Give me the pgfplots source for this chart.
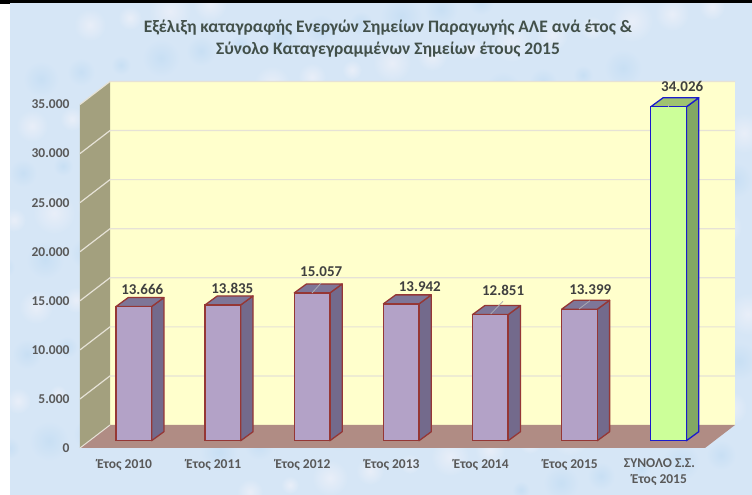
\documentclass[border=0pt]{standalone}
\usepackage{pgfplots}
\usepackage{pgfplotstable}
\usepackage{fontspec}
\setmainfont{Carlito}
\pgfplotsset{compat=1.18}
\definecolor{bgc}{HTML}{D6E6F6}
\definecolor{bgl}{HTML}{E8EEF8}
\definecolor{bgd}{HTML}{C8DFF4}
\definecolor{wallb}{HTML}{FFFFCC}
\definecolor{walll}{HTML}{A3A07E}
\definecolor{floorc}{HTML}{B08C84}
\definecolor{gridc}{HTML}{E6E2D6}
\definecolor{leadc}{HTML}{ABABB2}
\definecolor{barf}{HTML}{B3A2C7}
\definecolor{bars}{HTML}{736A8C}
\definecolor{bart}{HTML}{7E7698}
\definecolor{barl}{HTML}{953735}
\definecolor{totf}{HTML}{CCFF99}
\definecolor{tots}{HTML}{82A864}
\definecolor{tott}{HTML}{9FC370}
\definecolor{totl}{HTML}{1A1ACC}
\definecolor{titlec}{HTML}{42504A}
\definecolor{tickc}{HTML}{595959}
\definecolor{valc}{HTML}{404040}
\pgfplotstableread{
x value lx ly
0 13666 17.7 16.7
1 13835 18.6 16.2
2 15057 18.4 21
3 13942 27.8 17
4 12851 22 24
5 13399 20 19.5
}\yearly
\pgfplotstableread{
x value lx ly
6 34026 22.8 20
}\total
\begin{document}
\begin{tikzpicture}[x=1pt,y=1pt]
\path[use as bounding box] (0,0) rectangle (752,495);
\fill[bgc] (0,0) rectangle (752,495);
\begin{scope}
\clip (0,0) rectangle (752,495);
\foreach \i in {1,...,170}{
  \pgfmathsetmacro{\bx}{mod(\i*89,752)}
  \pgfmathsetmacro{\by}{mod(\i*61,495)}
  \pgfmathsetmacro{\br}{9+mod(\i*7,13)}
  \pgfmathtruncatemacro{\bk}{mod(\i,2)}
  \ifnum\bk=0
    \shade[inner color=bgl,outer color=bgc] (\bx,\by) circle (\br);
  \else
    \shade[inner color=bgd,outer color=bgc] (\bx,\by) circle (\br);
  \fi
}
\end{scope}
\fill[white] (0,0) rectangle (10,495);
\fill[black] (0,492) rectangle (752,495);
\fill[black] (0,491) rectangle (10,495);
\begin{axis}[
  at={(80pt,47pt)}, anchor=south west,
  width=624pt, height=343.5pt, scale only axis,
  clip=false,
  xmin=-0.5, xmax=6.5, ymin=0, ymax=35000,
  axis line style={draw=none},
  major tick length=0pt,
  xtick={0,1,2,3,4,5,6},
  xticklabels={Έτος 2010,Έτος 2011,Έτος 2012,Έτος 2013,Έτος 2014,Έτος 2015,{ΣΥΝΟΛΟ Σ.Σ.\\Έτος 2015}},
  xticklabel style={align=center,font=\fontsize{13.5}{16}\selectfont\bfseries,text=tickc,anchor=north,yshift=-7.5pt},
  ytick={0,5000,10000,15000,20000,25000,30000,35000},
  yticklabel style={font=\fontsize{13.5}{15}\selectfont\bfseries,text=tickc,anchor=east,xshift=-7pt},
  scaled y ticks=false,
  /pgf/number format/.cd,assume math mode=true,1000 sep={.},
  /pgfplots/.cd,
  title={Εξέλιξη καταγραφής Ενεργών Σημείων Παραγωγής ΑΛΕ ανά έτος \&\\Σύνολο Καταγεγραμμένων Σημείων έτους 2015},
  title style={at={(0.4936,1)},anchor=south,yshift=38pt,align=center,
    font=\fontsize{17.5}{22}\selectfont\bfseries,text=titlec},
  nodes near coords style={font=\fontsize{15}{16}\selectfont\bfseries,text=valc,anchor=center},
]
% walls and floor
\fill[wallb] (axis cs:-0.5,0) ++(30pt,23pt) rectangle ++(625pt,343.5pt);
\fill[walll] (axis cs:-0.5,0) -- ++(30pt,23pt) -- ++(0pt,343.5pt) -- ++(-30pt,-23pt) -- cycle;
\fill[floorc] (axis cs:-0.5,0) -- ++(30pt,23pt) -- ++(625pt,0pt) -- ++(-30pt,-23pt) -- cycle;
\pgfplotsinvokeforeach{5000,10000,15000,20000,25000,30000,35000}{
  \draw[gridc,line width=1.2pt] (axis cs:-0.5,#1) -- ++(30pt,23pt) -- ++(625pt,0pt);
}
\draw[gridc,line width=1pt] (axis cs:-0.5,0) -- ++(30pt,23pt);
\pgfplotsset{
  sidebar/.style={fill=bars,draw=barl,line width=1.3pt,line join=round,xshift=9.2pt,yshift=7.3pt},
  topbar/.style={fill=bart,draw=barl,line width=1.3pt,line join=round,xshift=9.2pt,yshift=7.3pt},
  sidetot/.style={fill=tots,draw=totl,line width=1.3pt,line join=round,xshift=9.2pt,yshift=7.3pt},
  toptot/.style={fill=tott,draw=totl,line width=1.3pt,line join=round,xshift=9.2pt,yshift=7.3pt},
}
\addplot[sidebar] coordinates {(0.2,0)(0.338,917)(0.338,14583)(0.2,13666)} --cycle;
\addplot[topbar] coordinates {(-0.2,13666)(0.2,13666)(0.338,14583)(-0.062,14583)} --cycle;
\addplot[sidebar] coordinates {(1.2,0)(1.338,917)(1.338,14752)(1.2,13835)} --cycle;
\addplot[topbar] coordinates {(0.8,13835)(1.2,13835)(1.338,14752)(0.938,14752)} --cycle;
\addplot[sidebar] coordinates {(2.2,0)(2.338,917)(2.338,15974)(2.2,15057)} --cycle;
\addplot[topbar] coordinates {(1.8,15057)(2.2,15057)(2.338,15974)(1.938,15974)} --cycle;
\addplot[sidebar] coordinates {(3.2,0)(3.338,917)(3.338,14859)(3.2,13942)} --cycle;
\addplot[topbar] coordinates {(2.8,13942)(3.2,13942)(3.338,14859)(2.938,14859)} --cycle;
\addplot[sidebar] coordinates {(4.2,0)(4.338,917)(4.338,13768)(4.2,12851)} --cycle;
\addplot[topbar] coordinates {(3.8,12851)(4.2,12851)(4.338,13768)(3.938,13768)} --cycle;
\addplot[sidebar] coordinates {(5.2,0)(5.338,917)(5.338,14316)(5.2,13399)} --cycle;
\addplot[topbar] coordinates {(4.8,13399)(5.2,13399)(5.338,14316)(4.938,14316)} --cycle;
\addplot[sidetot] coordinates {(6.2,0)(6.338,917)(6.338,34943)(6.2,34026)} --cycle;
\addplot[toptot] coordinates {(5.8,34026)(6.2,34026)(6.338,34943)(5.938,34943)} --cycle;
% front faces
\addplot[ybar,bar width=35.6pt,bar shift=9.2pt,yshift=7.3pt,fill=barf,draw=barl,line width=1.3pt,
  visualization depends on={\thisrow{lx}\as\lx},
  visualization depends on={\thisrow{ly}\as\ly},
  nodes near coords,
  nodes near coords style={xshift=\lx pt,yshift=\ly pt}]
  table[x=x,y=value] {\yearly};
\addplot[ybar,bar width=35.6pt,bar shift=9.2pt,yshift=7.3pt,fill=totf,draw=totl,line width=1.3pt,
  visualization depends on={\thisrow{lx}\as\lx},
  visualization depends on={\thisrow{ly}\as\ly},
  nodes near coords,
  nodes near coords style={xshift=\lx pt,yshift=\ly pt}]
  table[x=x,y=value] {\total};
\end{axis}
% leader lines
\draw[leadc,line width=0.8pt] (312,202) -- (321,212);
\draw[leadc,line width=0.8pt] (490.7,181) -- (503,193.7);
\draw[leadc,line width=0.8pt] (579,186) -- (590,194.3);
\draw[leadc,line width=0.8pt] (668.5,388) -- (668.5,391);
\end{tikzpicture}
\end{document}
